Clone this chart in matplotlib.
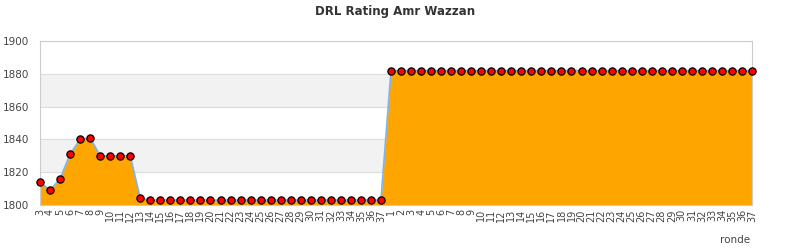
import matplotlib

matplotlib.use("Agg")
import matplotlib.pyplot as plt

# rounds: first season 3..37, second season 1..37
round_labels = [str(r) for r in range(3, 38)] + [str(r) for r in range(1, 38)]

ratings = (
    [1814, 1809, 1816, 1831, 1840, 1841, 1830, 1830, 1830, 1830, 1804]
    + [1803] * 24
    + [1882] * 37
)

title = "DRL Rating Amr Wazzan"
x_label = "ronde"
y_min, y_max = 1800, 1900
y_ticks = [1800, 1820, 1840, 1860, 1880, 1900]

fig = plt.figure(figsize=(7.9, 2.5), dpi=100)
ax = fig.add_axes([40 / 790, 45 / 250, 712 / 790, 164 / 250])

xs = list(range(len(ratings)))

# alternating bands
for lo, hi in [(1820, 1840), (1860, 1880)]:
    ax.axhspan(lo, hi, color="#f2f2f2", zorder=0)
for y in y_ticks:
    ax.axhline(y, color="#dddddd", lw=0.8, zorder=1)

ax.fill_between(xs, y_min, ratings, color="#ffa500", lw=0, zorder=2)
ax.plot(xs, ratings, color="#7cb5ec", lw=1.2, zorder=3)
ax.plot(xs, ratings, ls="none", marker="o", ms=5.2, mfc="#ff0000",
        mec="black", mew=0.9, zorder=4, clip_on=False)

ax.set_xlim(0, len(ratings) - 1)
ax.set_ylim(y_min, y_max)
ax.set_yticks(y_ticks)
ax.set_xticks(xs)
ax.set_xticklabels(round_labels, rotation=90, fontsize=7, color="#444444")
ax.tick_params(axis="y", labelsize=7.5, labelcolor="#444444", length=0, pad=8)
ax.tick_params(axis="x", length=0, pad=3)

for side in ["left", "right", "top", "bottom"]:
    ax.spines[side].set_color("#cccccc")
    ax.spines[side].set_linewidth(0.8)

fig.text(395 / 790, 1 - 12 / 250, title, ha="center", va="center",
         fontsize=8.5, fontweight="bold", color="#333333")
fig.text(735 / 790, 1 - 240 / 250, x_label, ha="center", va="center",
         fontsize=7.5, color="#444444")

fig.savefig("out.png", dpi=100)
